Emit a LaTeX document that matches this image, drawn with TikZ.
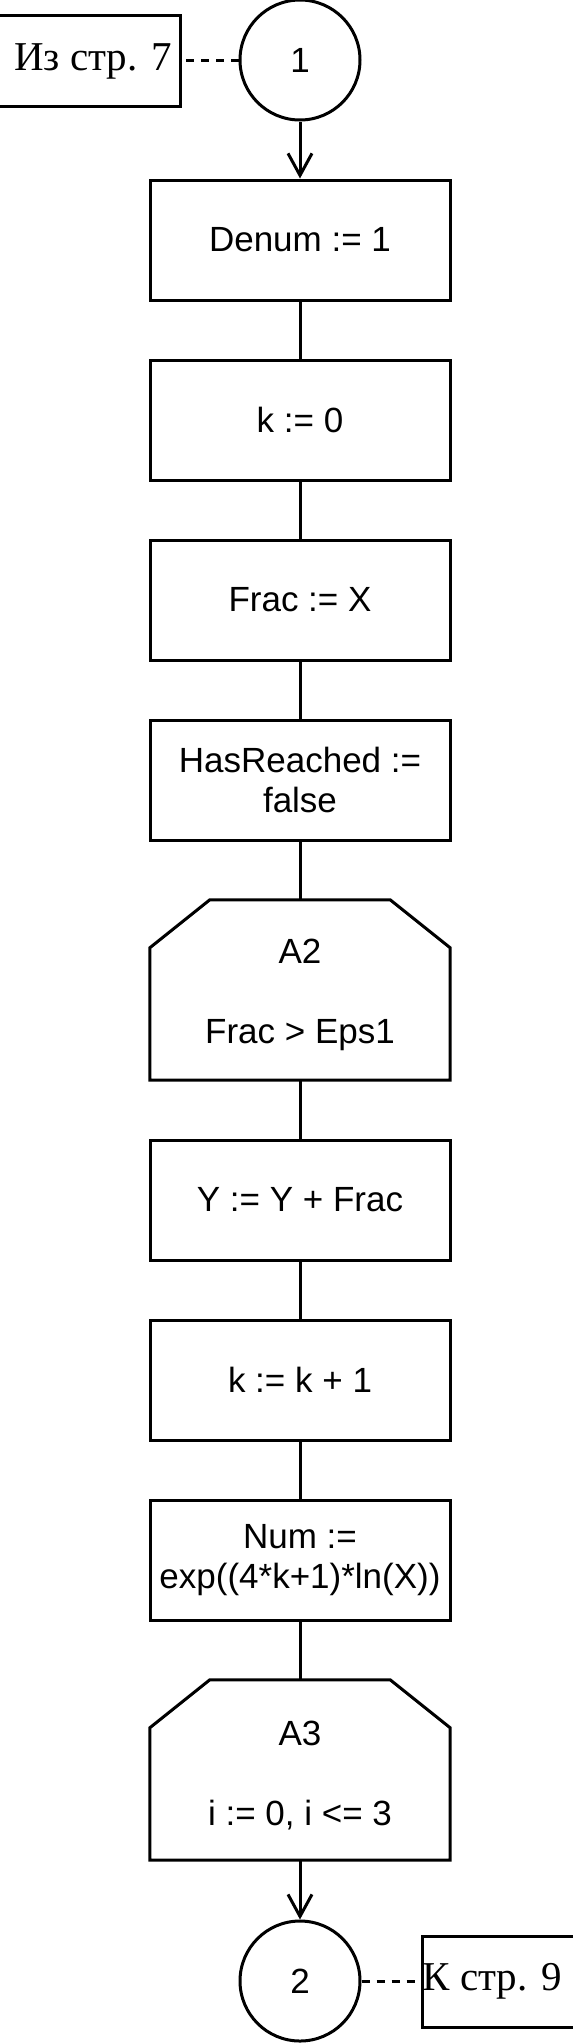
\documentclass[tikz,border=0pt]{standalone}
\usepackage{fontspec}
\setmainfont{Liberation Sans}
\newfontfamily\serifcyr{Liberation Serif}
\usetikzlibrary{arrows.meta}
\begin{document}
\begin{tikzpicture}[x=1pt,y=-1pt,
  line/.style={line width=3pt},
  proc/.style={draw, line width=3pt, minimum width=300pt, minimum height=120pt, inner sep=0pt, align=center, font=\fontsize{35}{40}\selectfont},
  loopbox/.style={minimum width=300pt, minimum height=180pt, inner sep=0pt},
  looptext/.style={align=center, inner sep=0pt, font=\fontsize{35}{40}\selectfont},
  conn/.style={draw, circle, line width=3pt, minimum size=120pt, inner sep=0pt, font=\fontsize{35}{40}\selectfont},
  note/.style={font=\serifcyr\fontsize{41}{47}\selectfont, inner sep=0pt},
  arr/.style={line width=3pt, -{Straight Barb[length=22pt,width=24pt]}},
  dashline/.style={line width=3pt, dash pattern=on 8pt off 7pt},
]
\useasboundingbox (0,0) rectangle (573,2043);

% connectors
\node[conn] (c1) at (300,60) {1};
\node[conn] (c2) at (300,1981) {2};

% process boxes
\node[proc] (b1) at (300,240) {Denum := 1};
\node[proc] (b2) at (300,420) {k := 0};
\node[proc] (b3) at (300,600) {Frac := X};
\node[proc] (b4) at (300,780) {HasReached :=\\false};
\node[loopbox] (A2) at (300,990) {};
\node[looptext] (A2t) at (300,995) {A2\\\mbox{}\\Frac > Eps1};
\node[proc] (b5) at (300,1200) {Y := Y + Frac};
\node[proc] (b6) at (300,1380) {k := k + 1};
\node[proc] (b7) at (300,1560) {Num :=\\exp((4*k+1)*ln(X))};
\node[loopbox] (A3) at (300,1770) {};
\node[looptext] (A3t) at (300,1775) {A3\\\mbox{}\\i := 0, i <= 3};

% loop limit outlines
\draw[line] ([yshift=-48pt]A2.north west) -- ([xshift=60pt]A2.north west) -- ([xshift=-60pt]A2.north east) -- ([yshift=-48pt]A2.north east) -- (A2.south east) -- (A2.south west) -- cycle;
\draw[line] ([yshift=-48pt]A3.north west) -- ([xshift=60pt]A3.north west) -- ([xshift=-60pt]A3.north east) -- ([yshift=-48pt]A3.north east) -- (A3.south east) -- (A3.south west) -- cycle;

% off-page notes
\node[note] (n1) at (93,61) {Из стр. 7};
\draw[line] (0,15) -- (180,15) -- (180,106) -- (0,106);
\coordinate (n1r) at (180,60);
\node[note] (n2) at (492,1981) {К стр. 9};
\draw[line] (573,1936) -- (422,1936) -- (422,2027) -- (573,2027);
\coordinate (n2l) at (422,1981);

% flow
\draw[arr] (c1) -- (b1);
\draw[line] (b1) -- (b2);
\draw[line] (b2) -- (b3);
\draw[line] (b3) -- (b4);
\draw[line] (b4) -- (A2);
\draw[line] (A2) -- (b5);
\draw[line] (b5) -- (b6);
\draw[line] (b6) -- (b7);
\draw[line] (b7) -- (A3);
\draw[arr] (A3) -- (c2);
\draw[dashline] (c1.west) -- (n1r);
\draw[dashline] (c2.east) -- (n2l);
\end{tikzpicture}
\end{document}
